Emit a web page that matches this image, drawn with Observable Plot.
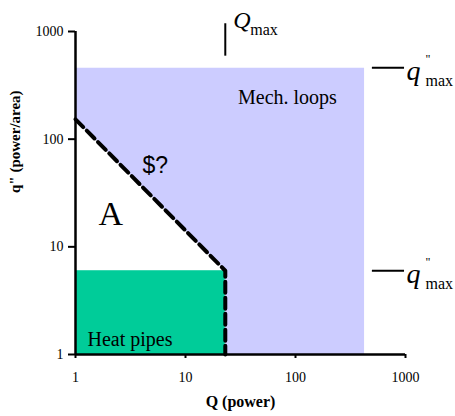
<!DOCTYPE html>
<html><head><meta charset="utf-8">
<script src="https://cdn.jsdelivr.net/npm/d3@7"></script>
<script src="https://cdn.jsdelivr.net/npm/@observablehq/plot@0.6"></script>
<style>body{margin:0;background:#fff}</style>
</head><body><div id="chart"></div>
<script>
const xTicks = [1, 10, 100, 1000];
const yTicks = [1, 10, 100, 1000];
// Mechanical loops region polygon (Q, q'')
const mechQ = [1, 1, 420, 420, 23, 23];
const mechQpp = [153, 460, 460, 1, 1, 6];
// Heat pipes region
const heatQ = [1, 23];
const heatQpp = [1, 6];
// Dashed boundary of region A
const boundaryQ = [1, 23, 23];
const boundaryQpp = [153, 6, 1];
// Limits
const Qmax = 23;
const qppMax = [460, 6];

const mech = mechQ.map((q, i) => ({q, v: mechQpp[i]}));
const boundary = boundaryQ.map((q, i) => ({q, v: boundaryQpp[i]}));
const serif = "Liberation Serif, Times New Roman, serif";
const sans = "Liberation Sans, Arial, sans-serif";

const chart = Plot.plot({
  width: 455, height: 416,
  marginLeft: 75, marginRight: 50, marginTop: 31, marginBottom: 62,
  style: {fontFamily: serif, fontSize: "14px", background: "white", overflow: "visible"},
  x: {type: "log", domain: [1, 1000]},
  y: {type: "log", domain: [1, 1000]},
  marks: [
    Plot.line(mech, {x: "q", y: "v", fill: "#ccccff", stroke: "none"}),
    Plot.rect([0], {x1: heatQ[0], x2: heatQ[1], y1: heatQpp[0], y2: heatQpp[1], fill: "#00cc99"}),
    Plot.line(boundary, {x: "q", y: "v", stroke: "black", strokeWidth: 4, strokeDasharray: "11,5", strokeLinejoin: "round"}),
    Plot.ruleX([1], {y1: 1, y2: 1000, stroke: "black", strokeWidth: 2.5}),
    Plot.ruleY([1], {x1: 1, x2: 1000, stroke: "black", strokeWidth: 2.5}),
    Plot.axisX(xTicks, {tickSize: 4, tickPadding: 14, tickFormat: d => String(d), strokeWidth: 2, label: null, fontSize: 14}),
    Plot.axisY(yTicks, {tickSize: 7, tickPadding: 5, tickFormat: d => String(d), strokeWidth: 2, label: null, fontSize: 14}),
    // Qmax marker
    Plot.ruleX([Qmax], {y1: 590, y2: 1180, stroke: "black", strokeWidth: 2}),
    Plot.text([Qmax], {x: d => d, y: 1000, text: () => "Q", dx: 8, dy: -4, textAnchor: "start", lineAnchor: "bottom", fontStyle: "italic", fontSize: 24, fontFamily: serif}),
    Plot.text([Qmax], {x: d => d, y: 1000, text: () => "max", dx: 25, dy: 3, textAnchor: "start", lineAnchor: "bottom", fontSize: 16, fontFamily: serif}),
    // q''max markers
    Plot.ruleY(qppMax, {x1: 500, x2: 980, stroke: "black", strokeWidth: 2}),
    Plot.text(qppMax, {x: 1000, y: d => d, text: () => "q", dx: 1, dy: 12, textAnchor: "start", lineAnchor: "bottom", fontStyle: "italic", fontSize: 28, fontFamily: serif}),
    Plot.text(qppMax, {x: 1000, y: d => d, text: () => "\"", dx: 20, dy: -5, textAnchor: "start", lineAnchor: "bottom", fontSize: 12, fontFamily: serif}),
    Plot.text(qppMax, {x: 1000, y: d => d, text: () => "max", dx: 20, dy: 18, textAnchor: "start", lineAnchor: "bottom", fontSize: 16, fontFamily: serif}),
    // region labels
    Plot.text(["Mech. loops"], {x: 30, y: 214, text: d => d, textAnchor: "start", lineAnchor: "bottom", fontSize: 20, fontFamily: serif}),
    Plot.text(["$?"], {x: 4.06, y: 49, text: d => d, textAnchor: "start", lineAnchor: "bottom", fontSize: 23, fontFamily: sans}),
    Plot.text(["A"], {x: 1.62, y: 15.8, text: d => d, textAnchor: "start", lineAnchor: "bottom", fontSize: 34, fontFamily: serif}),
    Plot.text(["Heat pipes"], {x: 1.285, y: 1.21, text: d => d, textAnchor: "start", lineAnchor: "bottom", fontSize: 20, fontFamily: serif}),
    // axis titles
    Plot.text(["Q (power)"], {frameAnchor: "bottom", text: d => d, dy: 52, fontWeight: "bold", fontSize: 16, fontFamily: serif}),
    Plot.text(["q\" (power/area)"], {frameAnchor: "left", text: d => d, dx: -60, rotate: -90, fontWeight: "bold", fontSize: 15, fontFamily: serif})
  ]
});
document.getElementById("chart").append(chart);
</script>
</body></html>
